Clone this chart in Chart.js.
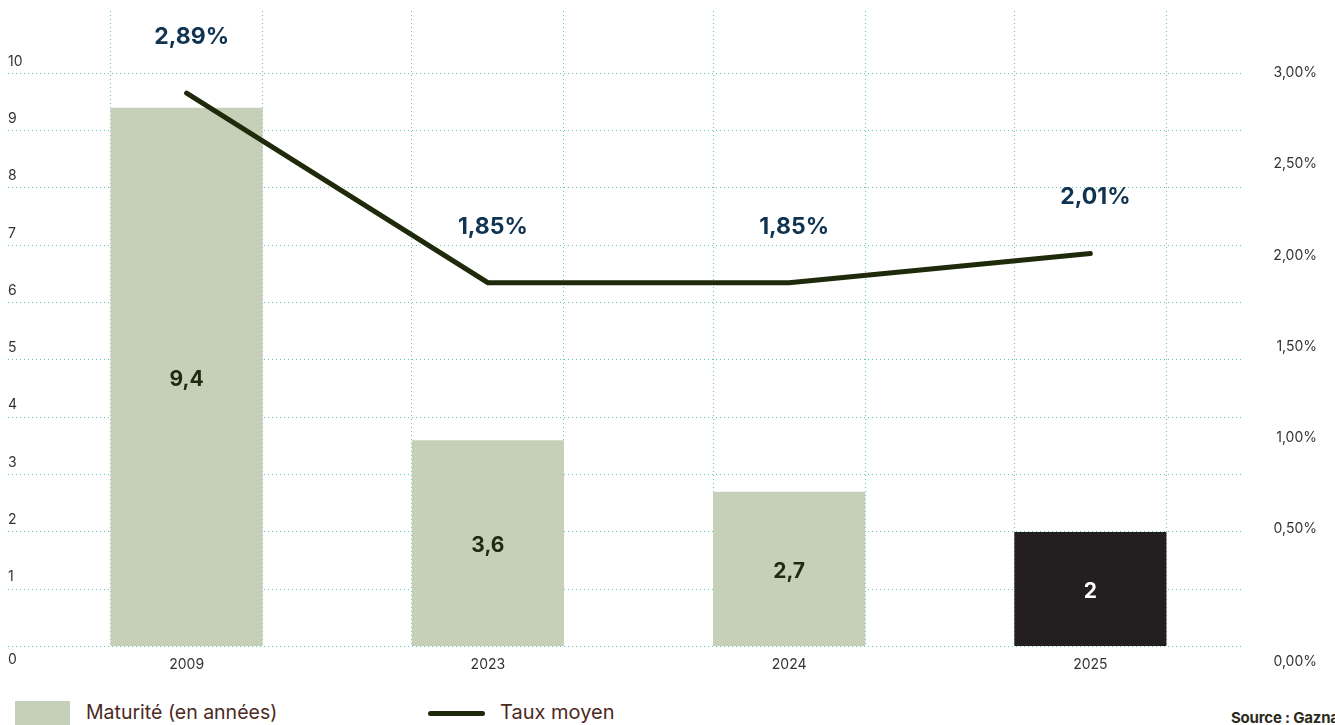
<!DOCTYPE html>
<html>
<head>
<meta charset="utf-8">
<script src="https://cdn.jsdelivr.net/npm/chart.js@4"></script>
<style>
  body { margin: 0; background: #fff; width: 1335px; height: 725px; overflow: hidden; position: relative; font-family: Inter, "Noto Sans", sans-serif; }
  #wrap { position: absolute; left: 0; top: 0; width: 1335px; height: 700px; }
  .leg { position: absolute; white-space: nowrap; }
</style>
</head>
<body>
<div id="wrap"><canvas id="chart"></canvas></div>

<div class="leg" style="left:15px; top:701px; width:55px; height:30px; background:#c6cfb7;"></div>
<div class="leg" style="left:86px; top:700px; font-size:19.5px; color:#4b2a22;">Maturité (en années)</div>
<div class="leg" style="left:428px; top:711px; width:57px; height:5px; border-radius:3px; background:#1f2a0a;"></div>
<div class="leg" style="left:500px; top:700px; font-size:20px; color:#4b2a22;">Taux moyen</div>
<div class="leg" style="left:1231px; top:708px; font-size:15px; letter-spacing:-0.2px; font-weight:700; color:#2b2b1c;">Source : Gazna</div>

<script>
// données
const categories = ['2009', '2023', '2024', '2025'];
const maturite = [9.4, 3.6, 2.7, 2];
const tauxMoyen = [2.89, 1.85, 1.85, 2.01];
const maturiteTicks = [0, 1, 2, 3, 4, 5, 6, 7, 8, 9, 10];
const tauxTicks = [0, 0.5, 1, 1.5, 2, 2.5, 3];

const barColors = ['#c6cfb7', '#c6cfb7', '#c6cfb7', '#231f20'];
const gridColor = '#5fc8b0';
const barPct = 0.505;

const fmt = v => String(v).replace('.', ',');
const fmtPct = v => v.toFixed(2).replace('.', ',') + '%';

// étiquettes de valeurs (barres au centre, ligne au-dessus)
const valueLabels = {
    id: 'valueLabels',
    afterDatasetsDraw(chart) {
        const ctx = chart.ctx;
        ctx.save();
        ctx.textAlign = 'center';
        ctx.textBaseline = 'middle';

        const bars = chart.getDatasetMeta(0).data;
        bars.forEach((bar, i) => {
            ctx.font = '700 21px Inter, sans-serif';
            ctx.fillStyle = i === 3 ? '#ffffff' : '#1f2a10';
            ctx.fillText(fmt(maturite[i]), bar.x, (bar.y + bar.base) / 2 + 3);
        });

        const pts = chart.getDatasetMeta(1).data;
        pts.forEach((pt, i) => {
            ctx.font = '700 23px Inter, sans-serif';
            ctx.fillStyle = '#0f3350';
            ctx.fillText(fmtPct(tauxMoyen[i]), pt.x + 5, pt.y - 56);
        });
        ctx.restore();
    }
};

new Chart(document.getElementById('chart'), {
    data: {
        labels: categories,
        datasets: [
            {
                type: 'bar',
                label: 'Maturité (en années)',
                data: maturite,
                backgroundColor: barColors,
                yAxisID: 'y',
                barPercentage: barPct,
                categoryPercentage: 1,
                order: 1
            },
            {
                type: 'line',
                label: 'Taux moyen',
                data: tauxMoyen,
                borderColor: '#1f2a0a',
                borderWidth: 5,
                borderCapStyle: 'round',
                pointRadius: 0,
                tension: 0,
                yAxisID: 'y2',
                order: 0
            }
        ]
    },
    options: {
        responsive: true,
        maintainAspectRatio: false,
        animation: false,
        layout: { padding: { top: 8, left: 8, right: 18, bottom: 7 } },
        plugins: {
            legend: { display: false },
            tooltip: { enabled: false }
        },
        scales: {
            x: {
                type: 'category',
                offset: true,
                grid: { display: false, drawTicks: false },
                border: { display: false },
                ticks: { color: '#333', font: { family: 'Inter', size: 14 }, padding: 10 }
            },
            // axe caché pour les lignes verticales aux bords des barres
            xg: {
                type: 'linear',
                position: 'top',
                min: -0.5,
                max: categories.length - 0.5,
                afterBuildTicks: s => {
                    s.ticks = categories.flatMap((c, i) => [
                        { value: i - barPct / 2 }, { value: i + barPct / 2 }
                    ]);
                },
                ticks: { display: false },
                border: { display: false, dash: [1, 3] },
                grid: { color: gridColor, lineWidth: 1, drawTicks: false }
            },
            y: {
                position: 'left',
                min: 0,
                max: 11.08,
                afterBuildTicks: s => { s.ticks = maturiteTicks.map(v => ({ value: v })); },
                afterFit: s => { s.width = 28; },
                border: { display: false, dash: [1, 3] },
                grid: {
                    color: gridColor, lineWidth: 1,
                    drawTicks: true, tickLength: 28, tickColor: gridColor, tickBorderDash: [1, 3]
                },
                ticks: {
                    autoSkip: false,
                    crossAlign: 'far',
                    labelOffset: -12,
                    padding: 0,
                    color: '#333',
                    font: { family: 'Inter', size: 14 },
                    // le 0 est placé sous la ligne de base, comme sur l'original
                    callback: v => v === 0 ? ['', '', '', '0'] : String(v)
                }
            },
            y2: {
                position: 'right',
                min: -0.148,
                max: 3.339,
                afterBuildTicks: s => { s.ticks = tauxTicks.map(v => ({ value: v })); },
                afterFit: s => { s.width = 76; },
                border: { display: false },
                grid: { display: false },
                ticks: {
                    autoSkip: false,
                    crossAlign: 'far',
                    color: '#333',
                    font: { family: 'Inter', size: 14 },
                    // idem : 0,00% aligné avec les années
                    callback: v => v === 0 ? ['', '', '', '', '', fmtPct(v)] : fmtPct(v)
                }
            }
        }
    },
    plugins: [valueLabels]
});
</script>
</body>
</html>
